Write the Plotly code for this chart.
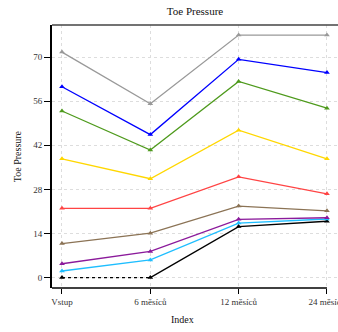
import plotly.graph_objects as go

categories = ["Vstup", "6 měsíců", "12 měsíců", "24 měsíců"]
y_ticks = [0, 14, 28, 42, 56, 70]

s_gray = [71.6, 55.2, 77.0, 77.0]
s_blue = [60.6, 45.4, 69.3, 65.1]
s_green = [52.9, 40.5, 62.3, 53.8]
s_yellow = [37.7, 31.4, 46.8, 37.7]
s_red = [22.0, 22.0, 32.0, 26.6]
s_brown = [10.8, 14.1, 22.7, 21.2]
s_purple = [4.4, 8.3, 18.5, 19.0]
s_cyan = [2.1, 5.6, 17.3, 18.6]
s_black = [0.0, 0.0, 16.2, 17.9]

series = [
    (s_black, "#000000"),
    (s_cyan, "#1EBEFF"),
    (s_purple, "#8B1A9B"),
    (s_brown, "#8B7355"),
    (s_red, "#FF4444"),
    (s_yellow, "#FFD700"),
    (s_green, "#4E9A1C"),
    (s_blue, "#0000FF"),
    (s_gray, "#999999"),
]

xi = list(range(len(categories)))
fig = go.Figure()
for vals, col in series:
    if vals is s_black:
        fig.add_trace(go.Scatter(x=xi[:2], y=vals[:2], mode="lines",
                                 line=dict(color=col, width=1.3, dash="dot"),
                                 showlegend=False, hoverinfo="skip"))
        fig.add_trace(go.Scatter(x=xi[1:], y=vals[1:], mode="lines",
                                 line=dict(color=col, width=1.3),
                                 showlegend=False))
        fig.add_trace(go.Scatter(x=xi, y=vals, mode="markers",
                                 marker=dict(symbol="triangle-up", size=5, color=col),
                                 showlegend=False))
    else:
        fig.add_trace(go.Scatter(x=xi, y=vals, mode="lines+markers",
                                 line=dict(color=col, width=1.3),
                                 marker=dict(symbol="triangle-up", size=5, color=col),
                                 showlegend=False))

font = "Liberation Serif, Times New Roman, serif"
xmin, xmax = -0.113, 3.125
ymin, ymax = -3.3, 80.2

fig.update_layout(
    width=338, height=332,
    margin=dict(l=52, r=0, t=25, b=44),
    plot_bgcolor="white", paper_bgcolor="white",
    font=dict(family=font, size=9, color="#333333"),
    title=dict(text="Toe Pressure", x=0.577, xanchor="center", y=0.965, yanchor="middle",
               font=dict(family=font, size=11, color="#111111")),
    xaxis=dict(range=[xmin, xmax], tickmode="array", tickvals=xi, ticktext=categories,
               automargin=False, ticklabeloverflow="allow",
               showgrid=True, gridcolor="#dddddd", griddash="dot", gridwidth=1,
               zeroline=False, showline=False, ticks="outside", ticklen=5,
               tickcolor="#000000", tickfont=dict(family=font, size=9, color="#333333")),
    yaxis=dict(range=[ymin, ymax], tickmode="array", tickvals=y_ticks,
               automargin=False,
               showgrid=True, gridcolor="#dddddd", griddash="dot", gridwidth=1,
               zeroline=False, showline=True, linecolor="#000000", linewidth=2,
               ticks="outside", ticklen=6, tickcolor="#000000",
               tickfont=dict(family=font, size=9, color="#333333")),
    shapes=[
        dict(type="line", xref="x", yref="paper", x0=xmin, x1=3, y0=0, y1=0,
             line=dict(color="#000000", width=1.5)),
        dict(type="line", xref="paper", yref="paper", x0=0, x1=1, y0=1, y1=1,
             line=dict(color="#444444", width=1.3)),
    ],
    annotations=[
        dict(text="Toe Pressure", textangle=-90, xref="paper", yref="paper",
             x=-0.12, y=0.5, xanchor="center", yanchor="middle", showarrow=False,
             font=dict(family=font, size=10, color="#111111")),
        dict(text="Index", xref="paper", yref="paper", x=0.457, y=-0.118,
             xanchor="center", yanchor="middle", showarrow=False,
             font=dict(family=font, size=10, color="#111111")),
    ],
)

fig.write_html("out.html", config={"displayModeBar": False},
               post_script="document.body.style.margin='0';document.body.style.overflow='hidden';")
